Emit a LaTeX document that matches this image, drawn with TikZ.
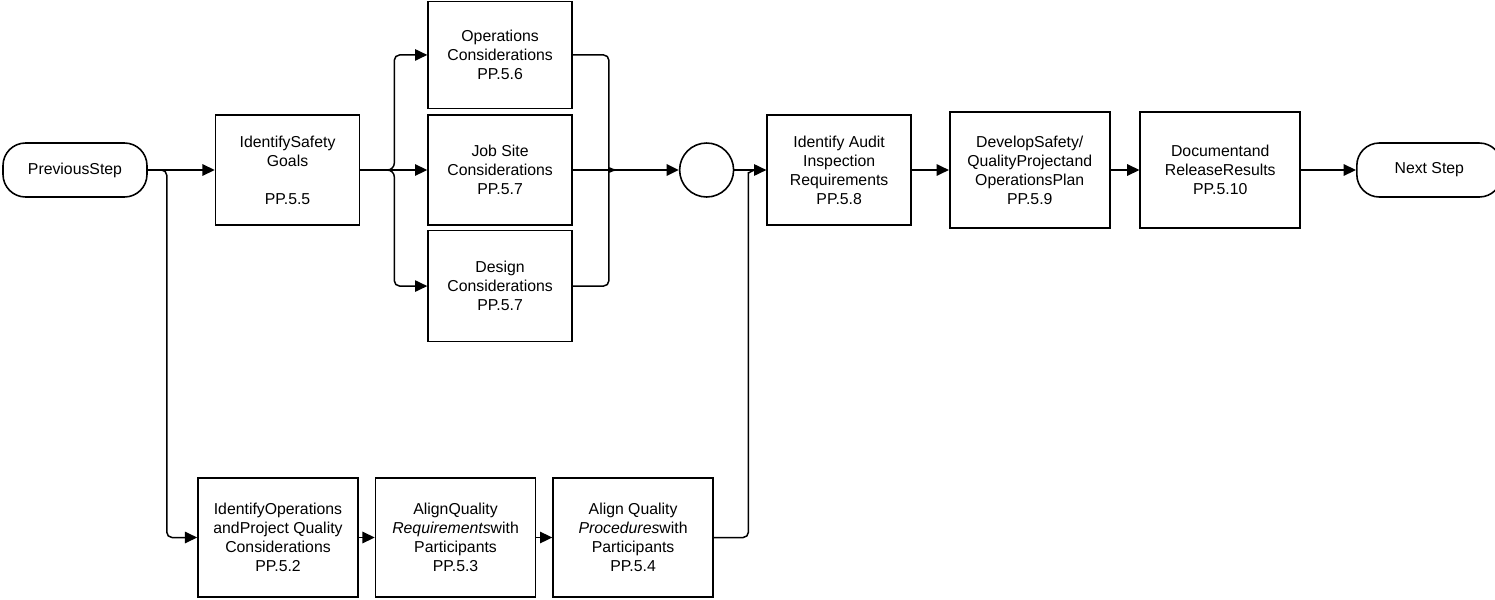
\documentclass[tikz,border=0pt]{standalone}
\usepackage{fontspec}
\setmainfont{Liberation Sans}
\usetikzlibrary{arrows.meta, positioning, calc}

\begin{document}
\begin{tikzpicture}[
    x=0.02cm, y=-0.02cm,
    every node/.style={align=center, font=\fontsize{9}{10.8}\selectfont},
    task/.style={draw, line width=0.9pt, minimum width=2.88cm, minimum height=2.2cm, inner sep=2pt},
    wide/.style={task, minimum width=3.2cm, minimum height=2.32cm},
    terminal/.style={draw, line width=0.9pt, rounded corners=0.45cm, minimum width=2.88cm, minimum height=1.08cm},
    junction/.style={draw, circle, line width=0.9pt, minimum size=1.08cm},
    link/.style={line width=0.85pt},
    flow/.style={link, -{Triangle[length=7pt, width=6.5pt]}},
    trunk/.style={line width=1.3pt}
]
    \useasboundingbox (0,0) rectangle (1495,599);

    % Nodes
    \node[terminal] (prev) at (75,170) {PreviousStep};
    \node[task, right=1.34cm of prev] (goals) {IdentifySafety\\Goals\\[10.8pt]PP.5.5};

    \node[task, right=1.34cm of goals] (job) {Job Site\\Considerations\\PP.5.7};
    \node[task, minimum height=2.14cm, above=0.1cm of job] (ops) {Operations\\Considerations\\PP.5.6};
    \node[task, minimum height=2.22cm, below=0.08cm of job] (design) {Design\\Considerations\\PP.5.7};

    \node[junction, right=2.12cm of job] (hub) {};
    \node[task, right=0.64cm of hub] (audit) {Identify Audit\\Inspection\\Requirements\\PP.5.8};
    \node[wide, right=0.74cm of audit] (develop) {DevelopSafety/\\QualityProjectand\\OperationsPlan\\PP.5.9};
    \node[wide, right=0.58cm of develop] (document) {Documentand\\ReleaseResults\\PP.5.10};
    \node[terminal, minimum width=2.9cm, right=1.1cm of document] (next) {Next Step};

    \node[wide, minimum height=2.38cm] (p1) at (278,537.5) {IdentifyOperations\\andProject Quality\\Considerations\\PP.5.2};
    \node[wide, minimum height=2.38cm, right=0.32cm of p1] (p2) {AlignQuality\\\textit{Requirements}with\\Participants\\PP.5.3};
    \node[wide, minimum height=2.38cm, right=0.32cm of p2] (p3) {Align Quality\\\textit{Procedures}with\\Participants\\PP.5.4};

    % Brace tips and merge points
    \coordinate (bl) at ($(goals.east)+(27,0)$);
    \coordinate (br) at ($(job.east)+(43,0)$);
    \coordinate (merge) at ($(audit.west)+(-18,8)$);
    \coordinate (join) at ($(audit.west)+(-10,0)$);

    % Arrows
    \draw[flow] (prev) -- (goals);
    \draw[flow, rounded corners=3pt] (prev.east) -- ++(19,0) |- (p1.west);

    \draw[trunk] (goals.east) -- (bl);
    \draw[flow] (bl) -- (job.west);
    \draw[flow] (bl) to[out=0, in=-90] ++(7,-7) [rounded corners=3pt] |- (ops.west);
    \draw[flow] (bl) to[out=0, in=90] ++(7,7) [rounded corners=3pt] |- (design.west);

    \draw[link] (job.east) -- (br);
    \draw[link, rounded corners=3pt] (ops.east) -| ($(br)+(-7,-7)$) [sharp corners] to[out=-90, in=180] (br);
    \draw[link, rounded corners=3pt] (design.east) -| ($(br)+(-7,7)$) [sharp corners] to[out=90, in=180] (br);
    \draw[trunk, -{Triangle[length=7pt, width=6.5pt]}] (br) -- (hub);

    \draw[flow] (hub) -- (audit);
    \draw[link, rounded corners=3pt] (p3.east) -| (merge) [sharp corners] to[out=90, in=180] (join);

    \draw[flow] (audit) -- (develop);
    \draw[flow] (develop) -- (document);
    \draw[flow] (document) -- (next);

    \draw[flow] (p1) -- (p2);
    \draw[flow] (p2) -- (p3);

\end{tikzpicture}
\end{document}
